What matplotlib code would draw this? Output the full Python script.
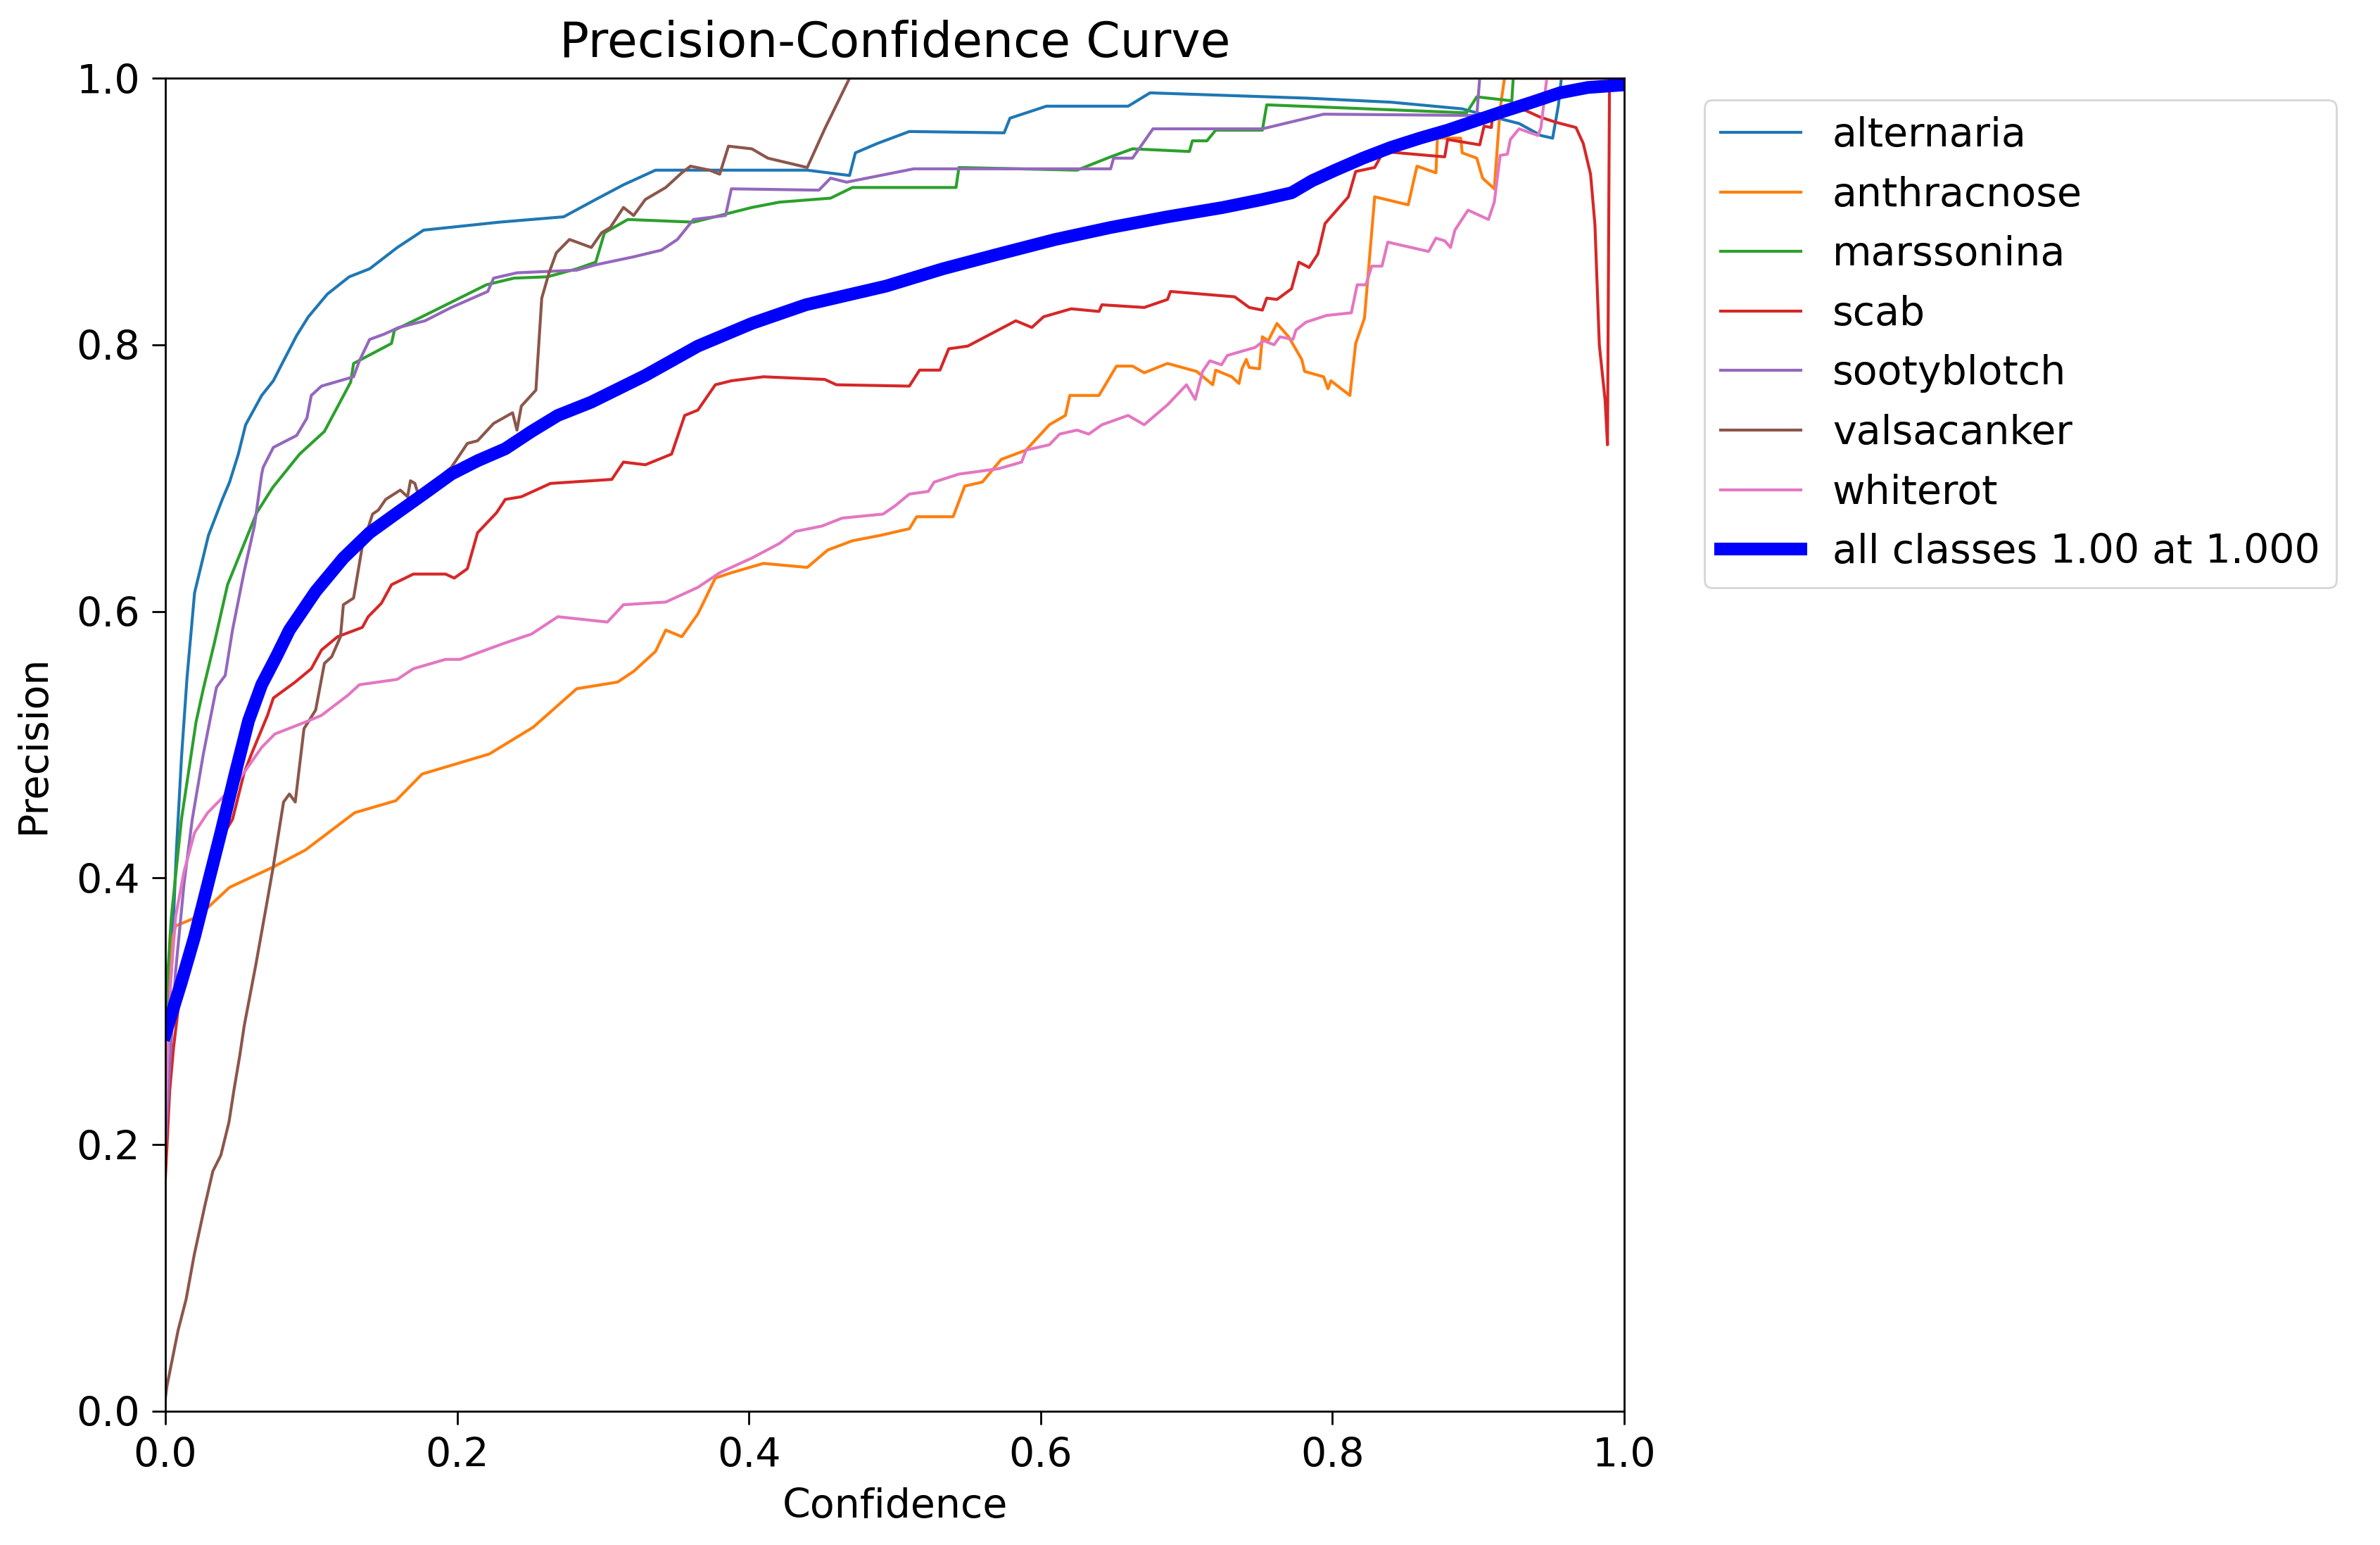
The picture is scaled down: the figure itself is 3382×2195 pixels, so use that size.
import matplotlib
matplotlib.use("Agg")
import matplotlib.pyplot as plt

# class names / colours (tab10 order)
names = ["alternaria", "anthracnose", "marssonina", "scab",
         "sootyblotch", "valsacanker", "whiterot"]

alternaria_x = [0.0, 0.004, 0.0075, 0.011, 0.0148, 0.020, 0.0295, 0.039, 0.044, 0.050, 0.055, 0.066, 0.074,
                0.081, 0.090, 0.098, 0.111, 0.126, 0.140, 0.159, 0.177, 0.229, 0.273, 0.295, 0.314, 0.336,
                0.377, 0.440, 0.469, 0.473, 0.488, 0.510, 0.575, 0.579, 0.604, 0.660, 0.675, 0.783, 0.840,
                0.889, 0.899, 0.928, 0.943, 0.951, 0.955, 0.957, 1.0]
alternaria_y = [0.28, 0.33, 0.42, 0.49, 0.55, 0.614, 0.657, 0.684, 0.697, 0.718, 0.740, 0.762, 0.773,
                0.788, 0.807, 0.821, 0.838, 0.851, 0.857, 0.873, 0.886, 0.892, 0.896, 0.909, 0.920, 0.931,
                0.931, 0.931, 0.927, 0.944, 0.951, 0.960, 0.959, 0.970, 0.979, 0.979, 0.989, 0.985, 0.982,
                0.977, 0.974, 0.966, 0.957, 0.955, 0.980, 1.0, 1.0]

anthracnose_x = [0.0, 0.004, 0.007, 0.0223, 0.044, 0.0735, 0.096, 0.1298, 0.158, 0.176, 0.222, 0.252, 0.282,
                 0.310, 0.321, 0.336, 0.343, 0.354, 0.365, 0.377, 0.388, 0.410, 0.440, 0.454, 0.471, 0.490,
                 0.510, 0.515, 0.540, 0.548, 0.560, 0.573, 0.590, 0.606, 0.617, 0.620, 0.640, 0.652, 0.663,
                 0.671, 0.687, 0.707, 0.718, 0.720, 0.731, 0.736, 0.738, 0.741, 0.743, 0.750, 0.752, 0.756,
                 0.762, 0.770, 0.779, 0.781, 0.794, 0.797, 0.799, 0.812, 0.816, 0.822, 0.829, 0.852, 0.858,
                 0.871, 0.872, 0.888, 0.889, 0.899, 0.903, 0.911, 0.915, 0.918, 1.0]
anthracnose_y = [0.30, 0.35, 0.364, 0.371, 0.393, 0.408, 0.421, 0.449, 0.458, 0.478, 0.493, 0.513, 0.542,
                 0.547, 0.555, 0.570, 0.586, 0.581, 0.598, 0.625, 0.629, 0.636, 0.633, 0.646, 0.653, 0.657,
                 0.662, 0.671, 0.671, 0.694, 0.697, 0.714, 0.721, 0.740, 0.747, 0.762, 0.762, 0.784, 0.784,
                 0.779, 0.786, 0.780, 0.770, 0.781, 0.776, 0.771, 0.782, 0.789, 0.783, 0.782, 0.806, 0.803,
                 0.816, 0.806, 0.789, 0.780, 0.776, 0.767, 0.773, 0.762, 0.801, 0.820, 0.911, 0.905, 0.934,
                 0.929, 0.955, 0.955, 0.944, 0.940, 0.925, 0.917, 0.977, 1.0, 1.0]

marssonina_x = [0.0, 0.004, 0.011, 0.021, 0.026, 0.0335, 0.0426, 0.050, 0.0626, 0.0736, 0.092, 0.109, 0.127,
                0.129, 0.155, 0.157, 0.174, 0.220, 0.239, 0.262, 0.282, 0.295, 0.301, 0.317, 0.362, 0.402,
                0.421, 0.456, 0.471, 0.542, 0.544, 0.625, 0.648, 0.663, 0.702, 0.704, 0.714, 0.720, 0.752,
                0.755, 0.892, 0.899, 0.923, 0.924, 1.0]
marssonina_y = [0.30, 0.37, 0.444, 0.517, 0.542, 0.576, 0.620, 0.640, 0.674, 0.693, 0.718, 0.735, 0.772,
                0.786, 0.801, 0.811, 0.820, 0.845, 0.850, 0.851, 0.857, 0.862, 0.884, 0.894, 0.892, 0.903,
                0.907, 0.910, 0.918, 0.918, 0.933, 0.931, 0.941, 0.947, 0.945, 0.953, 0.953, 0.961, 0.961,
                0.980, 0.974, 0.986, 0.983, 1.0, 1.0]

scab_x = [0.0, 0.0029, 0.0056, 0.011, 0.020, 0.033, 0.046, 0.054, 0.059, 0.070, 0.074, 0.089, 0.100, 0.107,
          0.118, 0.135, 0.139, 0.148, 0.155, 0.170, 0.192, 0.198, 0.207, 0.214, 0.227, 0.233, 0.244, 0.264,
          0.306, 0.314, 0.329, 0.347, 0.356, 0.365, 0.377, 0.388, 0.410, 0.452, 0.460, 0.510, 0.517, 0.531,
          0.537, 0.550, 0.583, 0.594, 0.602, 0.621, 0.640, 0.642, 0.671, 0.687, 0.689, 0.733, 0.743, 0.752,
          0.755, 0.762, 0.772, 0.777, 0.784, 0.790, 0.795, 0.811, 0.816, 0.829, 0.835, 0.866, 0.877, 0.879,
          0.901, 0.904, 0.909, 0.910, 0.932, 0.942, 0.953, 0.967, 0.972, 0.977, 0.980, 0.983, 0.987, 0.9886,
          0.990, 1.0]
scab_y = [0.175, 0.24, 0.273, 0.322, 0.371, 0.420, 0.444, 0.479, 0.493, 0.522, 0.535, 0.547, 0.557, 0.571,
          0.581, 0.588, 0.596, 0.606, 0.620, 0.628, 0.628, 0.625, 0.632, 0.659, 0.674, 0.684, 0.686, 0.696,
          0.699, 0.712, 0.710, 0.718, 0.747, 0.751, 0.770, 0.773, 0.776, 0.774, 0.770, 0.769, 0.781, 0.781,
          0.797, 0.799, 0.818, 0.813, 0.821, 0.827, 0.825, 0.830, 0.828, 0.834, 0.840, 0.836, 0.828, 0.826,
          0.835, 0.834, 0.842, 0.862, 0.858, 0.868, 0.891, 0.911, 0.930, 0.933, 0.945, 0.942, 0.941, 0.954,
          0.950, 0.964, 0.963, 0.975, 0.976, 0.971, 0.967, 0.963, 0.951, 0.928, 0.890, 0.800, 0.758, 0.725,
          1.0, 1.0]

sootyblotch_x = [0.0, 0.003, 0.007, 0.0128, 0.0184, 0.026, 0.035, 0.041, 0.046, 0.054, 0.061, 0.066, 0.067,
                 0.074, 0.090, 0.097, 0.100, 0.107, 0.129, 0.133, 0.140, 0.150, 0.160, 0.178, 0.196, 0.221,
                 0.225, 0.241, 0.282, 0.295, 0.321, 0.340, 0.351, 0.362, 0.384, 0.388, 0.448, 0.456, 0.467,
                 0.513, 0.648, 0.650, 0.663, 0.677, 0.752, 0.794, 0.899, 0.901, 1.0]
sootyblotch_y = [0.20, 0.26, 0.33, 0.396, 0.444, 0.493, 0.543, 0.552, 0.586, 0.630, 0.664, 0.703, 0.708,
                 0.723, 0.732, 0.745, 0.762, 0.769, 0.776, 0.788, 0.804, 0.808, 0.813, 0.818, 0.828, 0.840,
                 0.850, 0.854, 0.856, 0.860, 0.866, 0.871, 0.879, 0.894, 0.897, 0.917, 0.916, 0.925, 0.922,
                 0.932, 0.932, 0.940, 0.940, 0.962, 0.962, 0.973, 0.972, 1.0, 1.0]

valsacanker_x = [0.0, 0.001, 0.0087, 0.0142, 0.0197, 0.027, 0.0325, 0.038, 0.0436, 0.047, 0.051, 0.054,
                 0.062, 0.070, 0.074, 0.081, 0.085, 0.089, 0.095, 0.103, 0.109, 0.114, 0.120, 0.122, 0.129,
                 0.135, 0.142, 0.146, 0.151, 0.161, 0.166, 0.168, 0.171, 0.173, 0.185, 0.196, 0.207, 0.214,
                 0.225, 0.238, 0.241, 0.244, 0.254, 0.255, 0.258, 0.263, 0.268, 0.277, 0.292, 0.299, 0.305,
                 0.314, 0.321, 0.329, 0.343, 0.354, 0.360, 0.373, 0.380, 0.386, 0.402, 0.413, 0.440, 0.452,
                 0.469, 1.0]
valsacanker_y = [0.01, 0.0186, 0.0607, 0.084, 0.117, 0.154, 0.180, 0.192, 0.217, 0.241, 0.267, 0.289,
                 0.335, 0.384, 0.409, 0.457, 0.463, 0.457, 0.512, 0.526, 0.561, 0.566, 0.581, 0.605, 0.610,
                 0.649, 0.673, 0.676, 0.684, 0.691, 0.686, 0.698, 0.696, 0.689, 0.698, 0.708, 0.726, 0.728,
                 0.741, 0.749, 0.736, 0.754, 0.766, 0.784, 0.835, 0.854, 0.869, 0.879, 0.873, 0.884, 0.888,
                 0.903, 0.897, 0.909, 0.918, 0.929, 0.934, 0.931, 0.928, 0.949, 0.947, 0.940, 0.933, 0.962,
                 1.0, 1.0]

whiterot_x = [0.0, 0.0036, 0.007, 0.0128, 0.020, 0.029, 0.038, 0.050, 0.066, 0.075, 0.096, 0.107, 0.125,
              0.133, 0.159, 0.170, 0.192, 0.202, 0.232, 0.251, 0.269, 0.303, 0.314, 0.343, 0.365, 0.380,
              0.402, 0.421, 0.432, 0.450, 0.464, 0.492, 0.500, 0.510, 0.523, 0.527, 0.544, 0.571, 0.587,
              0.590, 0.606, 0.613, 0.625, 0.633, 0.642, 0.660, 0.671, 0.687, 0.700, 0.706, 0.711, 0.716,
              0.724, 0.728, 0.747, 0.753, 0.760, 0.764, 0.773, 0.775, 0.782, 0.796, 0.813, 0.817, 0.823,
              0.827, 0.834, 0.838, 0.866, 0.871, 0.877, 0.881, 0.884, 0.893, 0.907, 0.911, 0.915, 0.920,
              0.922, 0.928, 0.941, 0.943, 0.947, 1.0]
whiterot_y = [0.22, 0.322, 0.371, 0.405, 0.434, 0.449, 0.459, 0.473, 0.498, 0.508, 0.517, 0.522, 0.537,
              0.545, 0.549, 0.557, 0.564, 0.564, 0.576, 0.583, 0.596, 0.592, 0.605, 0.607, 0.618, 0.629,
              0.640, 0.651, 0.660, 0.664, 0.670, 0.673, 0.679, 0.688, 0.690, 0.697, 0.703, 0.707, 0.712,
              0.721, 0.725, 0.733, 0.736, 0.733, 0.740, 0.747, 0.740, 0.755, 0.770, 0.759, 0.780, 0.788,
              0.785, 0.792, 0.798, 0.803, 0.800, 0.806, 0.804, 0.811, 0.817, 0.822, 0.824, 0.845, 0.845,
              0.859, 0.859, 0.877, 0.870, 0.880, 0.878, 0.873, 0.886, 0.901, 0.894, 0.907, 0.942, 0.943,
              0.954, 0.962, 0.957, 0.963, 1.0, 1.0]

all_x = [0.0, 0.011, 0.020, 0.029, 0.038, 0.048, 0.057, 0.066, 0.076, 0.085, 0.103, 0.122, 0.140, 0.159,
         0.177, 0.196, 0.214, 0.233, 0.251, 0.269, 0.292, 0.329, 0.365, 0.402, 0.439, 0.494, 0.533, 0.571,
         0.610, 0.648, 0.687, 0.725, 0.752, 0.772, 0.786, 0.802, 0.821, 0.840, 0.860, 0.879, 0.898, 0.917,
         0.937, 0.956, 0.975, 1.0]
all_y = [0.283, 0.322, 0.356, 0.395, 0.434, 0.479, 0.518, 0.545, 0.566, 0.586, 0.615, 0.640, 0.659, 0.674,
         0.688, 0.703, 0.713, 0.722, 0.735, 0.747, 0.757, 0.777, 0.799, 0.816, 0.830, 0.844, 0.857, 0.868,
         0.879, 0.888, 0.896, 0.903, 0.909, 0.914, 0.923, 0.931, 0.940, 0.948, 0.955, 0.961, 0.968, 0.975,
         0.982, 0.989, 0.993, 0.995]
all_label = "all classes 1.00 at 1.000"

curves = [
    (alternaria_x, alternaria_y),
    (anthracnose_x, anthracnose_y),
    (marssonina_x, marssonina_y),
    (scab_x, scab_y),
    (sootyblotch_x, sootyblotch_y),
    (valsacanker_x, valsacanker_y),
    (whiterot_x, whiterot_y),
]

plt.rcParams["font.family"] = ["DejaVu Sans"]
plt.rcParams["font.size"] = 20.5

fig = plt.figure(figsize=(16.91, 10.975), dpi=200)
fig.subplots_adjust(left=0.0695, right=0.6824, bottom=0.0866, top=0.9494)
ax = fig.add_subplot(111)

for i, (name, (cx, cy)) in enumerate(zip(names, curves)):
    ax.plot(cx, cy, linewidth=1.5, color=f"C{i}", label=name)
ax.plot(all_x, all_y, linewidth=6.5, color="blue", label=all_label)

ax.set_xlim(0, 1)
ax.set_ylim(0, 1)
ax.set_xlabel("Confidence", labelpad=6)
ax.set_ylabel("Precision", labelpad=12)
ax.set_title("Precision-Confidence Curve", fontsize=25, pad=11)
ax.tick_params(length=7, width=1.0, pad=6)
for sp in ax.spines.values():
    sp.set_linewidth(1.0)

ax.legend(bbox_to_anchor=(1.055, 0.9836), loc="upper left", borderaxespad=0,
          labelspacing=0.52, fontsize=20.5)

fig.savefig("out.png", dpi=200)
